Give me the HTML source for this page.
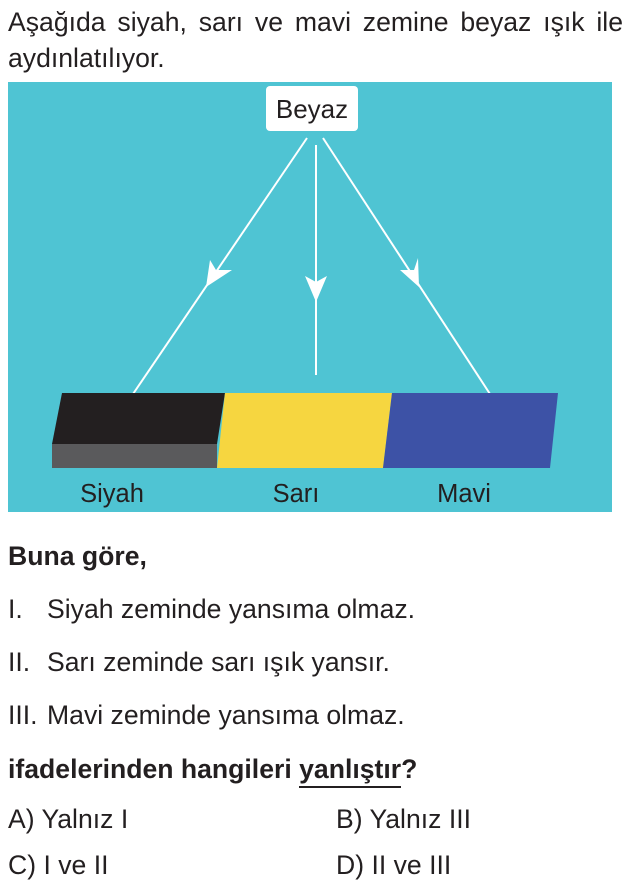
<!DOCTYPE html>
<html><head><meta charset="utf-8"><style>
body{margin:0;width:625px;height:888px;background:#fff;font-family:"Liberation Sans",sans-serif;color:#231f20;position:relative;overflow:hidden}
.t{position:absolute;font-size:26.6px;white-space:nowrap;line-height:30px}
</style></head><body>
<div class="t" style="left:8px;top:7px;width:615px;text-align:justify;text-align-last:justify">Aşağıda siyah, sarı ve mavi zemine beyaz ışık ile</div>
<div class="t" style="left:8px;top:43px">aydınlatılıyor.</div>
<svg style="position:absolute;left:0;top:0" width="625" height="520">
<rect x="8" y="82" width="604" height="430" fill="#4fc4d3"/>
<rect x="266" y="86" width="92" height="45" rx="4" fill="#fff"/>
<text x="312" y="118" font-size="26" text-anchor="middle" font-family="Liberation Sans" fill="#231f20">Beyaz</text>
<g stroke="#fff" stroke-width="2" fill="none">
<line x1="307" y1="138" x2="133" y2="394"/>
<line x1="316" y1="145" x2="316" y2="375"/>
<line x1="323" y1="138" x2="490" y2="394"/>
</g>
<g fill="#fff">
<polygon points="206,287 210,260 216,270 232,270"/>
<polygon points="316,302 305,276 316,282 327,276"/>
<polygon points="419,287 400,270 414,270 418,258"/>
</g>
<polygon points="62,393 225,393 217,444 52,444" fill="#231f20"/>
<rect x="52" y="444" width="165" height="24" fill="#5a5a5c"/>
<polygon points="225,393 392,393 383,468 217,468" fill="#f6d640"/>
<polygon points="392,393 558,393 550,468 383,468" fill="#3d52a6"/>
<text x="112" y="502" font-size="25.5" text-anchor="middle" font-family="Liberation Sans" fill="#231f20">Siyah</text>
<text x="296" y="502" font-size="25.5" text-anchor="middle" font-family="Liberation Sans" fill="#231f20">Sarı</text>
<text x="464" y="502" font-size="25.5" text-anchor="middle" font-family="Liberation Sans" fill="#231f20">Mavi</text>
</svg>
<div class="t" style="left:8px;top:541px;font-weight:bold">Buna göre,</div>
<div class="t" style="left:8px;top:594px">I.</div><div class="t" style="left:47px;top:594px">Siyah zeminde yansıma olmaz.</div>
<div class="t" style="left:8px;top:647px">II.</div><div class="t" style="left:47px;top:647px">Sarı zeminde sarı ışık yansır.</div>
<div class="t" style="left:8px;top:700px">III.</div><div class="t" style="left:47px;top:700px">Mavi zeminde yansıma olmaz.</div>
<div class="t" style="left:8px;top:754px;font-weight:bold">ifadelerinden hangileri <span style="border-bottom:2px solid #231f20;padding-bottom:2px">yanlıştır</span>?</div>
<div class="t" style="left:8px;top:804px">A) Yalnız I</div>
<div class="t" style="left:336px;top:804px">B) Yalnız III</div>
<div class="t" style="left:8px;top:850px">C) I ve II</div>
<div class="t" style="left:336px;top:850px">D) II ve III</div>
</body></html>
